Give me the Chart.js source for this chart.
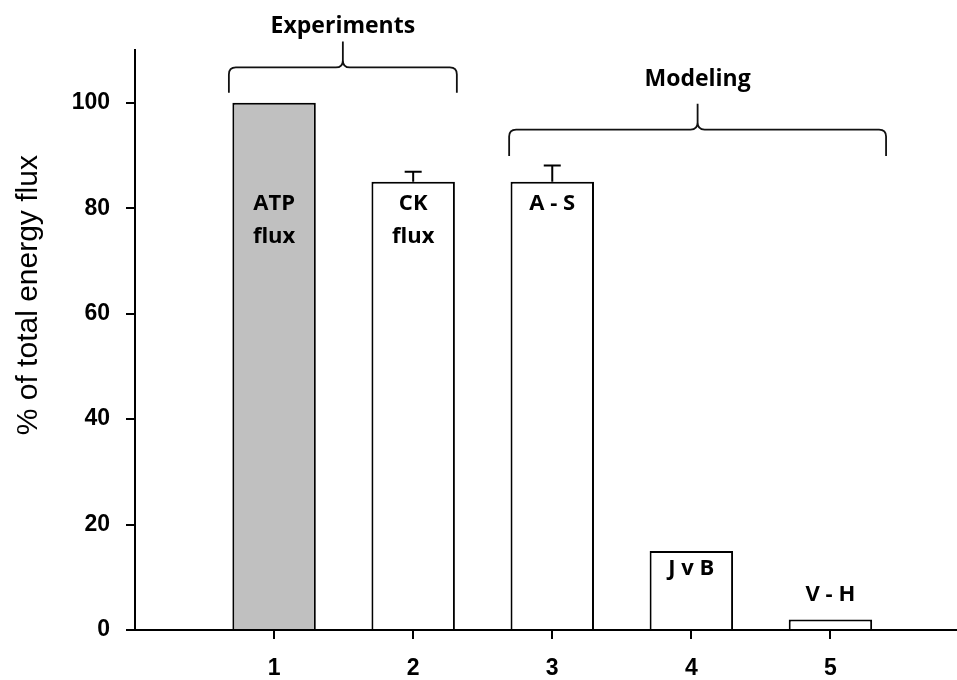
<!DOCTYPE html>
<html>
<head>
<meta charset="utf-8">
<script src="https://cdn.jsdelivr.net/npm/chart.js@4.4.1/dist/chart.umd.min.js"></script>
<style>
  body { margin: 0; background: #fff; }
  #wrap { width: 957px; height: 680px; position: relative; }
</style>
</head>
<body>
<div id="wrap"><canvas id="flux"></canvas></div>
<script>
// values
const categories = ['1', '2', '3', '4', '5'];
const xPositions = [1, 2, 3, 4, 5];
const fluxValues = [100, 85, 85, 15, 2];
const fluxErrors = [0, 1.9, 3.1, 0, 0];
const barColors = ['#c0c0c0', '#ffffff', '#ffffff', '#ffffff', '#ffffff'];
const barLabels = [['ATP', 'flux'], ['CK', 'flux'], ['A - S'], ['J v B'], ['V - H']];
const labelLevels = [80.8, 80.8, 80.8, 11.6, 6.7];
const yTicks = [0, 20, 40, 60, 80, 100];
const yTitle = '% of total energy flux';
const groupNames = ['Experiments', 'Modeling'];
const groupMembers = [[1, 2], [3, 4, 5]];

const annoFont = '700 22px "Open Sans", sans-serif';
const groupFont = '700 23px "Open Sans", sans-serif';
const axisFamily = '"Liberation Sans", Arial, sans-serif';

// brace geometry in data units (end, middle, tip, text) + side overhang
const braceStyle = [
  { left: 0.325, right: 0.314, end: 101.9, mid: 106.7, tip: 111.6, text: 114.4 },
  { left: 0.31, right: 0.40, end: 89.9, mid: 94.9, tip: 99.8, text: 104.4 },
];

function drawBrace(ctx, x0, x1, xm, yEnd, yMid, yTip) {
  const r = 7;
  ctx.beginPath();
  ctx.moveTo(x0, yEnd);
  ctx.lineTo(x0, yMid + r);
  ctx.quadraticCurveTo(x0, yMid, x0 + r, yMid);
  ctx.lineTo(xm - r, yMid);
  ctx.quadraticCurveTo(xm, yMid, xm, yMid - r);
  ctx.lineTo(xm, yTip);
  ctx.moveTo(xm, yMid - r);
  ctx.quadraticCurveTo(xm, yMid, xm + r, yMid);
  ctx.lineTo(x1 - r, yMid);
  ctx.quadraticCurveTo(x1, yMid, x1, yMid + r);
  ctx.lineTo(x1, yEnd);
  ctx.stroke();
}

const annotations = {
  id: 'annotations',
  afterDraw(chart) {
    const ctx = chart.ctx;
    const xs = chart.scales.x;
    const ys = chart.scales.y;
    ctx.save();
    ctx.strokeStyle = '#000';
    ctx.fillStyle = '#000';

    // y axis title (sits a bit above the axis centre in the original)
    ctx.save();
    ctx.translate(29, ys.getPixelForValue(63.5));
    ctx.rotate(-Math.PI / 2);
    ctx.font = '30px ' + axisFamily;
    ctx.textAlign = 'center';
    ctx.textBaseline = 'middle';
    ctx.fillText(yTitle, 0, 0);
    ctx.restore();

    // error bars
    ctx.lineWidth = 2;
    fluxErrors.forEach((err, i) => {
      if (!err) return;
      const x = xs.getPixelForValue(xPositions[i]);
      const yTop = ys.getPixelForValue(fluxValues[i] + err);
      const yBar = ys.getPixelForValue(fluxValues[i]);
      ctx.beginPath();
      ctx.moveTo(x, yBar);
      ctx.lineTo(x, yTop);
      ctx.moveTo(x - 8.5, yTop);
      ctx.lineTo(x + 8.5, yTop);
      ctx.stroke();
    });

    // bar labels
    ctx.font = annoFont;
    ctx.textAlign = 'center';
    ctx.textBaseline = 'middle';
    barLabels.forEach((lines, i) => {
      const x = xs.getPixelForValue(xPositions[i]);
      const y = ys.getPixelForValue(labelLevels[i]);
      lines.forEach((t, k) => ctx.fillText(t, x, y + k * 33));
    });

    // group braces
    ctx.lineWidth = 1.8;
    ctx.strokeStyle = '#111';
    ctx.font = groupFont;
    groupNames.forEach((name, g) => {
      const m = groupMembers[g];
      const s = braceStyle[g];
      const x0 = xs.getPixelForValue(m[0] - s.left);
      const x1 = xs.getPixelForValue(m[m.length - 1] + s.right);
      const xm = (x0 + x1) / 2;
      drawBrace(ctx, x0, x1, xm,
        ys.getPixelForValue(s.end), ys.getPixelForValue(s.mid), ys.getPixelForValue(s.tip));
      ctx.fillText(name, xm, ys.getPixelForValue(s.text));
    });
    ctx.restore();
  },
};

const ctx = document.getElementById('flux').getContext('2d');
// eslint-disable-next-line no-unused-vars
const fluxChart = new Chart(ctx, {
  type: 'bar',
  data: {
    datasets: [
      {
        data: xPositions.map((x, i) => ({ x: x, y: fluxValues[i] })),
        backgroundColor: barColors,
        borderColor: '#000',
        borderWidth: 2,
        barPercentage: 0.6,
        categoryPercentage: 1,
      },
    ],
  },
  options: {
    responsive: true,
    maintainAspectRatio: false,
    animation: false,
    layout: { padding: { top: 50, right: 0, left: 0, bottom: 0 } },
    plugins: { legend: { display: false }, tooltip: { enabled: false } },
    scales: {
      x: {
        type: 'linear',
        offset: false,
        min: 0,
        max: 5.91,
        afterFit: (scale) => { scale.height = 50; },
        afterBuildTicks: (scale) => { scale.ticks = xPositions.map((v) => ({ value: v })); },
        ticks: {
          callback: (v, i) => categories[i],
          color: '#000',
          font: { family: axisFamily, size: 23, weight: 'bold' },
          padding: 16,
          maxRotation: 0,
        },
        grid: { offset: false, drawOnChartArea: false, drawTicks: true, tickLength: 9, color: '#000', lineWidth: 2 },
        border: { color: '#000', width: 2 },
      },
      y: {
        min: 0,
        max: 110,
        afterFit: (scale) => { scale.width = 135; },
        afterBuildTicks: (scale) => { scale.ticks = yTicks.map((v) => ({ value: v })); },
        ticks: {
          color: '#000',
          font: { family: axisFamily, size: 23, weight: 'bold' },
          padding: 16,
        },
        grid: { drawOnChartArea: false, drawTicks: true, tickLength: 9, color: '#000', lineWidth: 2 },
        border: { color: '#000', width: 2 },
      },
    },
  },
  plugins: [annotations],
});
</script>
</body>
</html>
